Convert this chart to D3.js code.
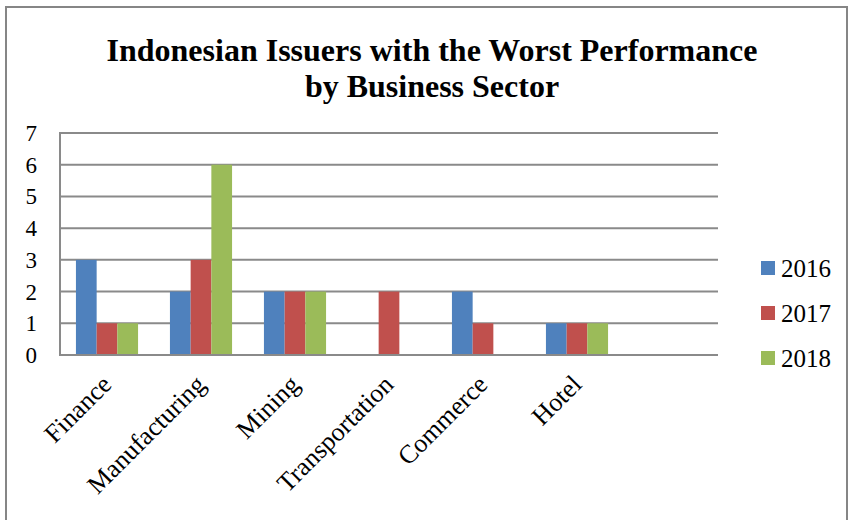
<!DOCTYPE html>
<html>
<head>
<meta charset="utf-8">
<script src="https://cdn.jsdelivr.net/npm/d3@7"></script>
<style>
  body { margin: 0; background: #fff; }
  text { font-family: "Liberation Serif", "Times New Roman", serif; fill: #000; }
</style>
</head>
<body>
<script>
// data
var sectors = ["Finance", "Manufacturing", "Mining", "Transportation", "Commerce", "Hotel", ""];
var years = ["2016", "2017", "2018"];
var v2016 = [3, 2, 2, 0, 2, 1, 0];
var v2017 = [1, 3, 2, 2, 1, 1, 0];
var v2018 = [1, 6, 2, 0, 0, 1, 0];
var yTicks = [0, 1, 2, 3, 4, 5, 6, 7];
var colors = ["#4F81BD", "#C0504D", "#9BBB59"];

var w = 853, h = 520;
var plotL = 60, plotR = 718, plotT = 133, plotB = 355;

var series = [v2016, v2017, v2018];

var svg = d3.select("body").append("svg")
    .attr("width", w)
    .attr("height", h);

// outer frame
svg.append("rect")
    .attr("x", 6).attr("y", 7)
    .attr("width", 841).attr("height", 530)
    .attr("fill", "none")
    .attr("stroke", "#868686")
    .attr("stroke-width", 2);

// title
svg.append("text")
    .attr("x", 432).attr("y", 61)
    .attr("text-anchor", "middle")
    .attr("font-size", "32px")
    .attr("font-weight", "bold")
    .text("Indonesian Issuers with the Worst Performance");
svg.append("text")
    .attr("x", 432).attr("y", 97)
    .attr("text-anchor", "middle")
    .attr("font-size", "32px")
    .attr("font-weight", "bold")
    .text("by Business Sector");

var xScale = d3.scaleBand()
    .domain(d3.range(sectors.length))
    .range([plotL, plotR]);

var inner = d3.scaleBand()
    .domain(d3.range(years.length))
    .range([0, xScale.bandwidth()])
    .paddingOuter(0.77)
    .paddingInner(0);

var yScale = d3.scaleLinear()
    .domain([0, 7])
    .range([plotB, plotT]);

// gridlines
svg.selectAll("line.grid")
    .data(yTicks)
    .enter()
    .append("line")
    .attr("class", "grid")
    .attr("x1", plotL).attr("x2", plotR)
    .attr("y1", function(d) { return yScale(d); })
    .attr("y2", function(d) { return yScale(d); })
    .attr("stroke", "#8a8a8a")
    .attr("stroke-width", 2);

// left axis line
svg.append("line")
    .attr("x1", plotL).attr("x2", plotL)
    .attr("y1", plotT - 1).attr("y2", plotB + 1)
    .attr("stroke", "#8a8a8a")
    .attr("stroke-width", 2);

// y labels
svg.selectAll("text.ytick")
    .data(yTicks)
    .enter()
    .append("text")
    .attr("class", "ytick")
    .attr("x", 37)
    .attr("y", function(d) { return yScale(d); })
    .attr("dy", "0.35em")
    .attr("text-anchor", "end")
    .attr("font-size", "23px")
    .text(function(d) { return d; });

// bars
var groups = svg.selectAll("g.sector")
    .data(sectors)
    .enter()
    .append("g")
    .attr("class", "sector")
    .attr("transform", function(d, i) { return "translate(" + xScale(i) + ",0)"; });

groups.selectAll("rect")
    .data(function(d, i) {
        return series.map(function(s, j) { return {k: j, v: s[i]}; })
                     .filter(function(e) { return e.v > 0; });
    })
    .enter()
    .append("rect")
    .attr("x", function(d) { return inner(d.k); })
    .attr("y", function(d) { return yScale(d.v); })
    .attr("width", inner.bandwidth())
    .attr("height", function(d) { return yScale(0) - yScale(d.v); })
    .attr("fill", function(d) { return colors[d.k]; });

// redraw the baseline over the bars
svg.append("line")
    .attr("x1", plotL).attr("x2", plotR)
    .attr("y1", plotB).attr("y2", plotB)
    .attr("stroke", "#8a8a8a")
    .attr("stroke-width", 2);

// x labels, rotated
svg.selectAll("text.xlab")
    .data(sectors)
    .enter()
    .append("text")
    .attr("class", "xlab")
    .attr("font-size", "26px")
    .attr("text-anchor", "end")
    .attr("transform", function(d, i) {
        var cx = xScale(i) + xScale.bandwidth() / 2 + 6;
        return "translate(" + cx + ",386) rotate(-45)";
    })
    .text(function(d) { return d; });

// legend
var legend = svg.selectAll("g.legend")
    .data(years)
    .enter()
    .append("g")
    .attr("class", "legend")
    .attr("transform", function(d, i) { return "translate(761," + (261 + i * 45) + ")"; });
legend.append("rect")
    .attr("width", 14).attr("height", 14)
    .attr("fill", function(d, i) { return colors[i]; });
legend.append("text")
    .attr("x", 20).attr("y", 7)
    .attr("dy", "0.35em")
    .attr("font-size", "25px")
    .text(function(d) { return d; });
</script>
</body>
</html>
